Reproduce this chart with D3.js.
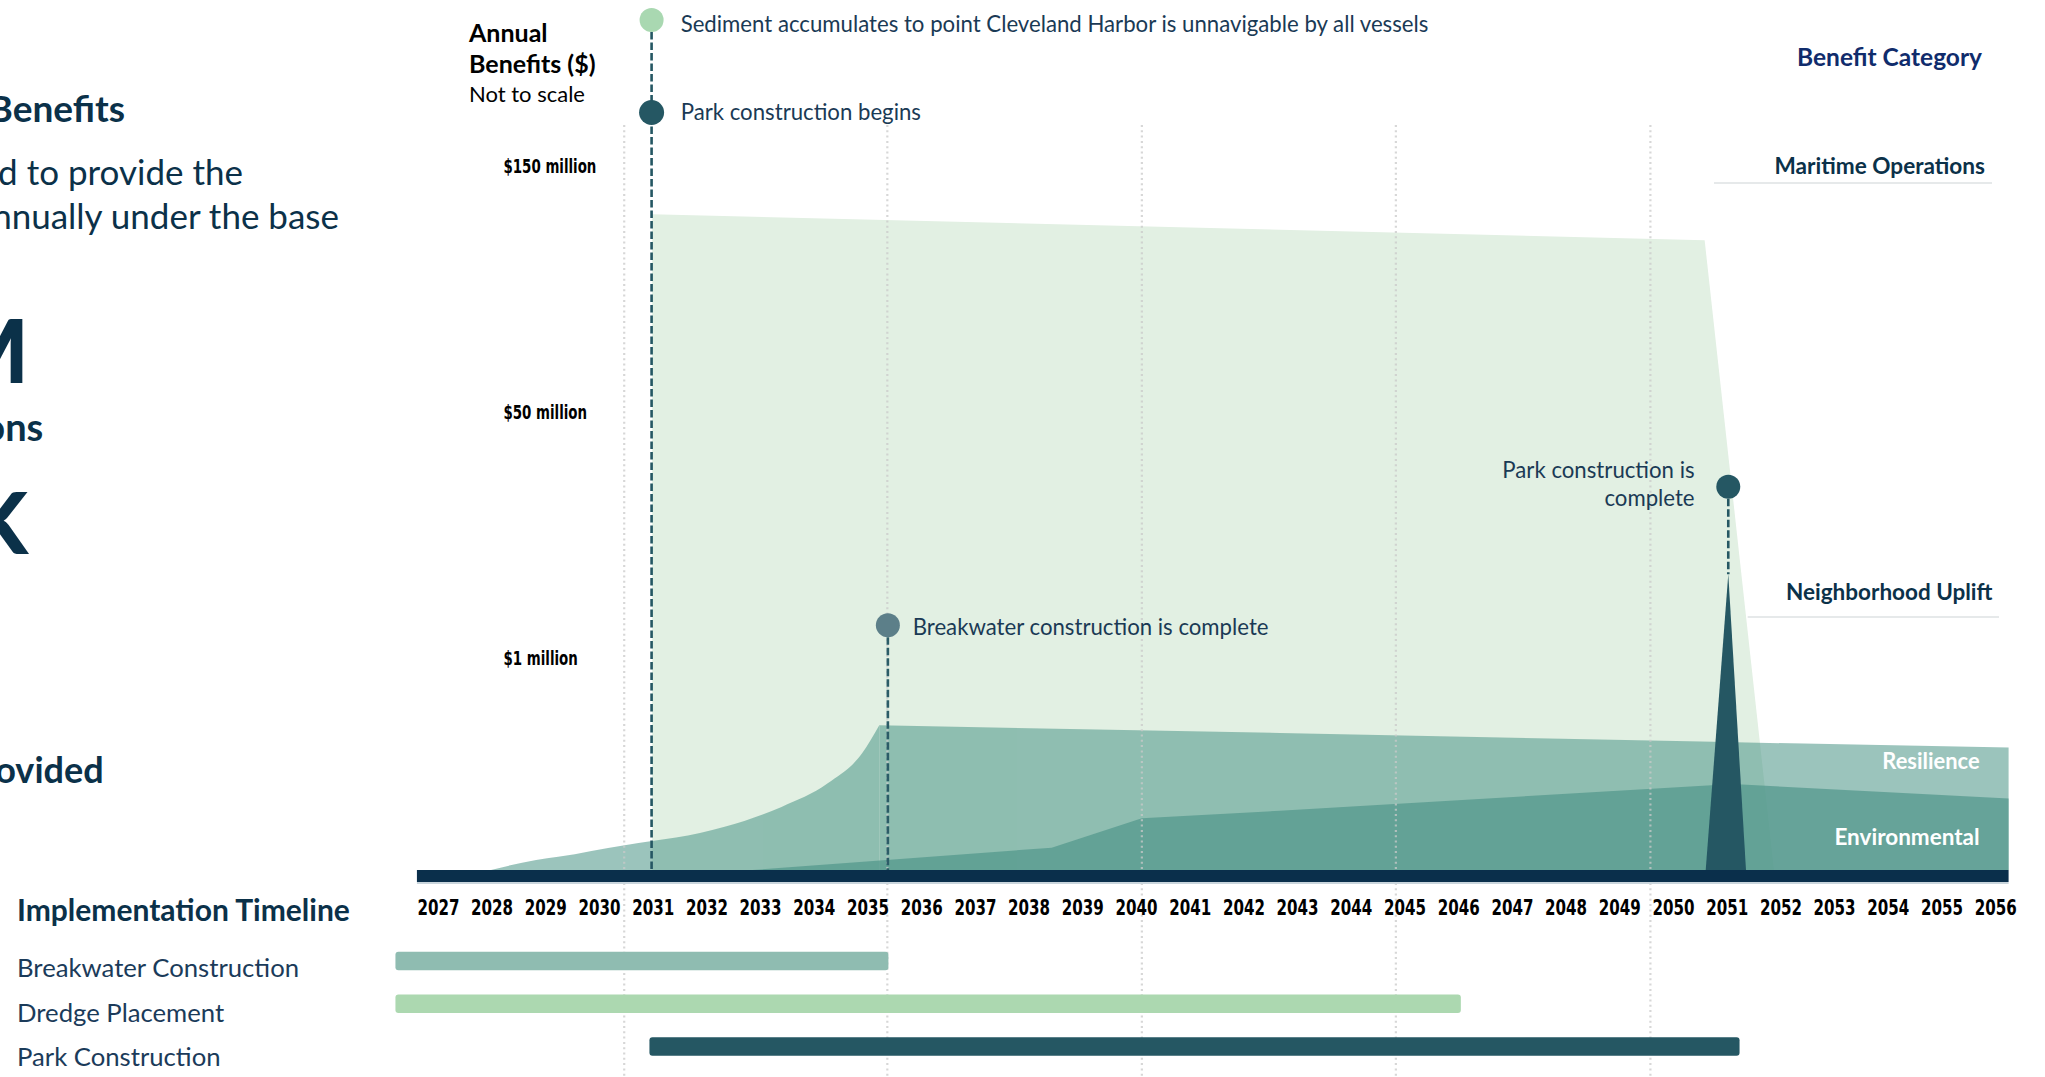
<!DOCTYPE html>
<html><head><meta charset="utf-8">
<script src="https://cdn.jsdelivr.net/npm/d3@7"></script>
<style>
html,body{margin:0;padding:0;background:#fff;overflow:hidden}
svg{display:block}
</style></head><body>
<svg id="chart" width="2045" height="1077"></svg>
<script>
// ---------------- DATA ----------------
const years = d3.range(2027, 2057);                       // x tick labels
const yTickValues = [150, 50, 1];                         // $ millions (not to scale)
const yTickLabels = ["$150 million", "$50 million", "$1 million"];

const categories = ["Maritime Operations", "Neighborhood Uplift", "Resilience", "Environmental"];

// annual benefits, $ millions
const maritimeYears  = [2030.98, 2050.58, 2051.87];
const maritimeValues = [130.4, 119.8, 0];

// resilience: ramp-up while breakwater is built, then steady
const resilienceRampYears  = [2027.98, 2028.82, 2029.23, 2030.47, 2030.98, 2031.87, 2032.33, 2033.39, 2034.25, 2034.89, 2035.21];
const resilienceRampValues = [0, 0.047, 0.062, 0.117, 0.136, 0.174, 0.203, 0.297, 0.408, 0.549, 0.681];
const resilienceYears  = [2035.21, 2042.67, 2050.75, 2056.24];
const resilienceValues = [0.681, 0.645, 0.603, 0.576];

const environmentalYears  = [2032.85, 2038.42, 2040.10, 2042.67, 2050.71, 2051.27, 2056.24];
const environmentalValues = [0, 0.105, 0.243, 0.279, 0.399, 0.402, 0.337];

const upliftYears  = [2050.60, 2051.02, 2051.35];
const upliftValues = [0, 17.6, 0];

// milestones
const eventLabels = [
  ["Sediment accumulates to point Cleveland Harbor is unnavigable by all vessels"],
  ["Park construction begins"],
  ["Breakwater construction is complete"],
  ["Park construction is", "complete"]
];
const eventYears = [2030.97, 2030.97, 2035.37, 2051.02];

// implementation timeline
const tasks     = ["Breakwater Construction", "Dredge Placement", "Park Construction"];
const taskStart = [2026.2, 2026.2, 2030.93];
const taskEnd   = [2035.38, 2046.04, 2051.23];

const gridYears = [2030.46, 2035.36, 2040.10, 2044.83, 2049.57];
const axisSpan  = [2026.6, 2056.24];

// ---------------- LAYOUT / STYLE ----------------
const W = 2045, H = 1077;
const NAVY = "#0b3149", TEXT = "#1a3a55", DARK = "#255763";
const SANS = "Lato, 'Open Sans', sans-serif";
const NARROW = "'Liberation Sans Narrow','Arial Narrow','DejaVu Sans Condensed',Roboto,sans-serif";

const svg = d3.select("#chart");
const x = d3.scaleLinear().domain([2027, 2056]).range([438.4, 1995.7]);
const y = d3.scaleLinear().domain([0, 1, 50, 150]).range([870, 657.5, 412, 166]);

const ctx = document.createElement("canvas").getContext("2d");
function measure(str, font) { ctx.font = font; return ctx.measureText(str).width; }
const yearSX = 42 / measure("2027", `bold 22px ${NARROW}`);
const ylabSX = 93 / measure("$150 million", `bold 19.5px ${NARROW}`);

const zip = (a, b) => a.map((v, i) => [v, b[i]]);
const area = (curve) => d3.area().x(d => x(d[0])).y0(y(0)).y1(d => y(d[1])).curve(curve);

// ---- areas ----
svg.append("path").attr("d", area(d3.curveLinear)(zip(maritimeYears, maritimeValues)))
  .attr("fill", "#e2f0e3");
const gRes = svg.append("g").attr("opacity", 0.6);
gRes.append("path").attr("d", area(d3.curveMonotoneX)(zip(resilienceRampYears, resilienceRampValues)))
  .attr("fill", "rgb(88,157,143)");
gRes.append("path").attr("d", area(d3.curveLinear)(zip(resilienceYears, resilienceValues)))
  .attr("fill", "rgb(88,157,143)");
svg.append("path").attr("d", area(d3.curveLinear)(zip(environmentalYears, environmentalValues)))
  .attr("fill", "rgb(80,150,138)").attr("fill-opacity", 0.7);

// ---- gridlines ----
svg.append("g").selectAll("line").data(gridYears).join("line")
  .attr("x1", d => x(d)).attr("x2", d => x(d)).attr("y1", 125).attr("y2", H)
  .attr("stroke", "#c9c9c9").attr("stroke-opacity", 0.75).attr("stroke-width", 2.2)
  .attr("stroke-dasharray", "2,3.3");

// ---- neighborhood uplift spike ----
svg.append("path").attr("d", area(d3.curveLinear)(zip(upliftYears, upliftValues)))
  .attr("fill", DARK);

// ---- axis bar ----
svg.append("rect").attr("x", x(axisSpan[0])).attr("width", x(axisSpan[1]) - x(axisSpan[0]))
  .attr("y", 870).attr("height", 12).attr("fill", "#0a2f4b");
svg.append("rect").attr("x", x(axisSpan[0])).attr("width", x(axisSpan[1]) - x(axisSpan[0]))
  .attr("y", 882).attr("height", 2).attr("fill", "#c9d5dc");

// ---- x tick labels ----
svg.append("g").selectAll("text").data(years).join("text")
  .attr("transform", d => `translate(${x(d)},915) scale(${yearSX},1)`)
  .attr("text-anchor", "middle").attr("font-family", NARROW).attr("font-weight", "bold")
  .attr("font-size", 22).attr("fill", "#000").text(d => d);

// ---- y tick labels ----
svg.append("g").selectAll("text").data(yTickValues).join("text")
  .attr("transform", d => `translate(503.5,${y(d) + 7}) scale(${ylabSX},1)`)
  .attr("font-family", NARROW).attr("font-weight", "bold").attr("font-size", 19.5)
  .attr("fill", "#000").text((d, i) => yTickLabels[i]);

// ---- y axis title ----
const yt = svg.append("g").attr("font-family", SANS).attr("fill", "#000");
yt.append("text").attr("x", 469).attr("y", 41.5).attr("font-weight", 700).attr("font-size", 25).text("Annual");
yt.append("text").attr("x", 469).attr("y", 72.5).attr("font-weight", 700).attr("font-size", 25).text("Benefits ($)");
yt.append("text").attr("x", 469).attr("y", 101.5).attr("font-size", 22).text("Not to scale");

// ---- milestones ----
const evLayout = [
  {dotY: 20,    r: 12,   fill: "#a9d8b1", tx: 680.7, ty: [31.5], anchor: "start"},
  {dotY: 112.5, r: 12.5, fill: DARK,      tx: 680.7, ty: [119.5], anchor: "start"},
  {dotY: 625.3, r: 12,   fill: "#5c7f89", tx: 912.7, ty: [635], anchor: "start"},
  {dotY: 486.7, r: 12,   fill: DARK,      tx: 1694.6, ty: [478.4, 506], anchor: "end"}
];
const stemEnd = [y(0), y(0), y(0), y(upliftValues[1])];
[0, 2, 3].forEach(i => {
  svg.append("line").attr("x1", x(eventYears[i])).attr("x2", x(eventYears[i]))
    .attr("y1", evLayout[i].dotY + 12).attr("y2", stemEnd[i])
    .attr("stroke", i === 2 ? "#2b5c67" : DARK).attr("stroke-width", 2.6).attr("stroke-dasharray", "7.5,3");
});
eventYears.forEach((yr, i) => {
  const L = evLayout[i];
  svg.append("circle").attr("cx", x(yr)).attr("cy", L.dotY).attr("r", L.r).attr("fill", L.fill);
  const t = svg.append("text").attr("font-family", SANS).attr("font-size", 22.2)
    .attr("fill", TEXT).attr("text-anchor", L.anchor);
  eventLabels[i].forEach((s, j) => t.append("tspan").attr("x", L.tx).attr("y", L.ty[j]).text(s));
});

// ---- category labels ----
const cat = svg.append("g").attr("font-family", SANS).attr("font-weight", 700);
cat.append("text").attr("x", 1982).attr("y", 66.4).attr("text-anchor", "end")
  .attr("font-size", 24.5).attr("fill", "#102c6c").text("Benefit Category");
const catLayout = [
  {x: 1985, y: 174.3, fill: NAVY, size: 22.6, line: [1714, 1992, 183]},
  {x: 1992.5, y: 599.6, fill: NAVY, size: 22.5, line: [1747.7, 1999, 617]},
  {x: 1979.6, y: 769.3, fill: "#fff", size: 21.9},
  {x: 1979.6, y: 845.3, fill: "#fff", size: 22.5}
];
categories.forEach((c, i) => {
  const L = catLayout[i];
  cat.append("text").attr("x", L.x).attr("y", L.y).attr("text-anchor", "end")
    .attr("font-size", L.size).attr("fill", L.fill).text(c);
  if (L.line) svg.append("line").attr("x1", L.line[0]).attr("x2", L.line[1])
    .attr("y1", L.line[2]).attr("y2", L.line[2]).attr("stroke", "#e6e9ea").attr("stroke-width", 2);
});

// ---- implementation timeline ----
svg.append("text").attr("x", 17).attr("y", 920.7).attr("font-family", SANS).attr("font-weight", 700)
  .attr("font-size", 30).attr("fill", NAVY).text("Implementation Timeline");
const rowY = d3.scalePoint().domain(tasks).range([961, 1046.5]);
const taskColors = ["#8fbcb1", "#acd8b0", DARK];
svg.append("g").selectAll("rect").data(tasks).join("rect")
  .attr("x", (d, i) => x(taskStart[i])).attr("width", (d, i) => x(taskEnd[i]) - x(taskStart[i]))
  .attr("y", d => rowY(d) - 9.3).attr("height", 18.6).attr("rx", 3)
  .attr("fill", (d, i) => taskColors[i]);
svg.append("g").selectAll("text").data(tasks).join("text")
  .attr("x", 17).attr("y", (d, i) => rowY(d) + 16 + i * 1.8)
  .attr("font-family", SANS).attr("font-size", 25.7).attr("fill", "#1b3b5a").text(d => d);

// ---- left panel (cropped slide text) ----
const lp = svg.append("g").attr("font-family", SANS).attr("fill", NAVY).attr("text-anchor", "end");
lp.append("text").attr("x", 125).attr("y", 122).attr("font-weight", 700).attr("font-size", 37).text("Benefits");
lp.append("text").attr("x", 243).attr("y", 185).attr("font-size", 35).text("d to provide the");
lp.append("text").attr("x", 339).attr("y", 229).attr("font-size", 35).text("nnually under the base");
lp.append("text").attr("x", 29).attr("y", 383).attr("font-weight", 900).attr("font-size", 88).text("M");
lp.append("text").attr("x", 43.3).attr("y", 440.6).attr("font-weight", 700).attr("font-size", 38).text("ons");
lp.append("text").attr("x", 28).attr("y", 553.6).attr("font-weight", 900).attr("font-size", 86).text("K");
lp.append("text").attr("x", 103.6).attr("y", 782.7).attr("font-weight", 700).attr("font-size", 36).text("ovided");
</script>
</body></html>
